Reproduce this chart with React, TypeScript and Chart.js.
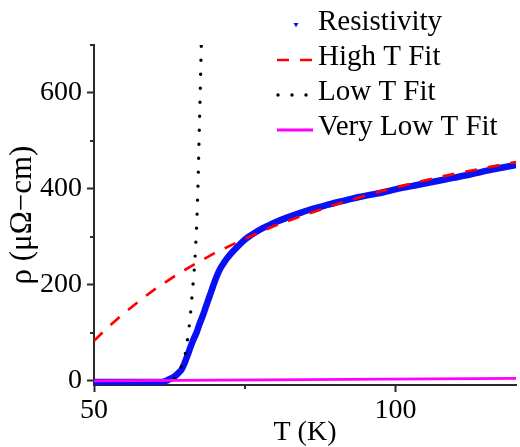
import React, { useEffect, useRef } from 'react';
import { Chart, registerables } from 'chart.js';

Chart.register(...registerables);

// ---------- data ----------
const resistivityT = [50, 52, 54, 56, 58, 60, 61, 61.5, 62, 62.5, 63, 63.5, 64, 64.5, 65, 65.5, 66, 66.5, 67, 67.5, 68, 68.5, 69, 69.5, 70, 70.5, 71, 71.5, 72, 72.5, 73, 74, 75, 76, 77, 78, 79, 80, 82, 84, 86, 88, 90, 92, 94, 96, 98, 100, 104, 108, 112, 116, 120];
const resistivityRho = [-3, -3, -3, -3, -3, -3, -3, -2, 0, 3, 6, 10, 16, 23, 36, 52, 70, 86, 100, 118, 134, 152, 170, 188, 206, 222, 235, 245, 254, 262, 269, 282, 294, 303, 311, 318, 324, 330, 340, 349, 357, 364, 371, 377, 383, 388, 393, 399, 409, 419, 429, 440, 450];

const highFitT = [50, 52, 55, 58, 60, 63, 66, 70, 75, 80, 85, 90, 95, 100, 105, 110, 115, 120];
const highFitRho = [83, 108, 141, 171, 190, 215, 238, 266, 296, 323, 346, 367, 386, 403, 418, 432, 444, 456];

const lowFitT = [63.3, 63.6, 64.2, 64.8, 65.3, 65.9, 66.3, 66.7, 67.05, 67.27, 67.43, 67.6, 67.76, 67.8];
const lowFitRho = [4, 8, 20, 36, 65, 124, 182, 241, 328, 416, 504, 591, 680, 700];

const veryLowFitT = [50, 85, 120];
const veryLowFitRho = [-0.5, 2, 5];

const seriesLabels = ['Resistivity', 'High T Fit', 'Low T Fit', 'Very Low T Fit'];
const xMajorTicks = [50, 100];
const xMinorTicks = [75];
const yMajorTicks = [0, 200, 400, 600];
const yMinorTicks = [100, 300, 500, 700];
const xAxisTitle = 'T (K)';
const yAxisTitle = 'ρ (μΩ−cm)';

// ---------- styles ----------
const FONT = '"Liberation Serif", "Times New Roman", serif';
const AXIS_COLOR = '#2a2a2a';
const BLUE = '#0a10f5';
const RED = '#ff0000';
const BLACK = '#000000';
const MAGENTA = '#ff00ff';

const toPoints = (xs: number[], ys: number[]) => xs.map((x, i) => ({ x, y: ys[i] }));

const minorTicksPlugin = {
  id: 'minorTicks',
  afterDraw(chart: any) {
    const { ctx } = chart;
    const x = chart.scales.x;
    const y = chart.scales.y;
    ctx.save();
    ctx.strokeStyle = AXIS_COLOR;
    ctx.lineWidth = 2;
    ctx.beginPath();
    xMinorTicks.forEach((v) => {
      const px = Math.round(x.getPixelForValue(v));
      ctx.moveTo(px, x.top);
      ctx.lineTo(px, x.top + 4);
    });
    yMinorTicks.forEach((v) => {
      const py = Math.round(y.getPixelForValue(v));
      ctx.moveTo(y.right, py);
      ctx.lineTo(y.right - 4, py);
    });
    ctx.stroke();
    ctx.restore();
  },
};

const legendPlugin = {
  id: 'customLegend',
  afterDraw(chart: any) {
    const { ctx } = chart;
    const textX = 318;
    const markerL = 277;
    const markerR = 313;
    const rowTop = 22;
    const rowGap = 35;
    ctx.save();
    ctx.font = `29px ${FONT}`;
    ctx.textBaseline = 'middle';
    ctx.textAlign = 'left';
    chart.data.datasets.forEach((ds: any, i: number) => {
      const cy = rowTop + i * rowGap;
      ctx.fillStyle = '#000';
      ctx.fillText(ds.label, textX, cy);
      const my = cy + 3;
      ctx.save();
      if (i === 0) {
        const cx = (markerL + markerR) / 2 + 1;
        ctx.fillStyle = BLUE;
        ctx.beginPath();
        ctx.moveTo(cx - 2.5, my - 2);
        ctx.lineTo(cx + 2.5, my - 2);
        ctx.lineTo(cx, my + 2.5);
        ctx.closePath();
        ctx.fill();
      } else {
        ctx.strokeStyle = ds.borderColor;
        ctx.lineWidth = ds.borderWidth;
        ctx.lineCap = ds.borderCapStyle || 'butt';
        ctx.setLineDash(ds.borderDash || []);
        ctx.beginPath();
        if (i === 2) {
          ctx.moveTo(markerL + 1, my);
          ctx.lineTo(markerR - 4, my);
        } else {
          ctx.moveTo(markerL, my);
          ctx.lineTo(markerR, my);
        }
        ctx.stroke();
      }
      ctx.restore();
    });
    ctx.restore();
  },
};

export default function App() {
  const canvasRef = useRef<HTMLCanvasElement | null>(null);

  useEffect(() => {
    if (!canvasRef.current) return;
    Chart.defaults.font.family = FONT;
    const chart = new Chart(canvasRef.current, {
      type: 'scatter',
      data: {
        datasets: [
          {
            label: seriesLabels[0],
            data: toPoints(resistivityT, resistivityRho),
            showLine: true,
            borderColor: BLUE,
            backgroundColor: BLUE,
            borderWidth: 6.5,
            cubicInterpolationMode: 'monotone',
            pointRadius: 3,
            pointStyle: 'triangle',
            rotation: 180,
            pointBorderWidth: 0,
            order: 4,
          },
          {
            label: seriesLabels[1],
            data: toPoints(highFitT, highFitRho),
            showLine: true,
            borderColor: RED,
            backgroundColor: RED,
            borderWidth: 2.7,
            borderDash: [12, 11],
            pointRadius: 0,
            order: 3,
          },
          {
            label: seriesLabels[2],
            data: toPoints(lowFitT, lowFitRho),
            showLine: true,
            borderColor: BLACK,
            backgroundColor: BLACK,
            borderWidth: 3.4,
            borderDash: [0, 14],
            borderCapStyle: 'round',
            pointRadius: 0,
            order: 2,
          },
          {
            label: seriesLabels[3],
            data: toPoints(veryLowFitT, veryLowFitRho),
            showLine: true,
            borderColor: MAGENTA,
            backgroundColor: MAGENTA,
            borderWidth: 2.8,
            pointRadius: 0,
            order: 1,
          },
        ],
      },
      options: {
        animation: false,
        responsive: false,
        maintainAspectRatio: false,
        layout: { padding: { top: 45, right: 3, left: 0, bottom: 0 } },
        plugins: {
          legend: { display: false },
          tooltip: { enabled: false },
        },
        scales: {
          x: {
            type: 'linear',
            min: 50,
            max: 120,
            afterBuildTicks: (scale: any) => {
              scale.ticks = xMajorTicks.map((v) => ({ value: v }));
            },
            afterFit: (scale: any) => {
              scale.height = 62;
            },
            border: { display: true, color: AXIS_COLOR, width: 2 },
            grid: {
              display: true,
              drawOnChartArea: false,
              drawTicks: true,
              tickLength: 7,
              tickColor: AXIS_COLOR,
              tickWidth: 2,
            },
            ticks: {
              color: '#000',
              font: { family: FONT, size: 28 },
              padding: 2,
              maxRotation: 0,
              autoSkip: false,
              callback: (v: any) => String(v),
            },
            title: {
              display: true,
              text: xAxisTitle,
              color: '#000',
              font: { family: FONT, size: 28, lineHeight: 1 },
              padding: { top: 0, bottom: 0 },
            },
          },
          y: {
            type: 'linear',
            min: -9,
            max: 700,
            afterBuildTicks: (scale: any) => {
              scale.ticks = yMajorTicks.map((v) => ({ value: v }));
            },
            afterFit: (scale: any) => {
              scale.width = 94;
            },
            border: { display: true, color: AXIS_COLOR, width: 2 },
            grid: {
              display: true,
              drawOnChartArea: false,
              drawTicks: true,
              tickLength: 7,
              tickColor: AXIS_COLOR,
              tickWidth: 2,
            },
            ticks: {
              color: '#000',
              font: { family: FONT, size: 28 },
              padding: 5,
              autoSkip: false,
              callback: (v: any) => String(v),
            },
            title: {
              display: true,
              text: yAxisTitle,
              color: '#000',
              font: { family: FONT, size: 31, lineHeight: 1 },
              padding: { top: 7, bottom: 0 },
            },
          },
        },
      },
      plugins: [minorTicksPlugin, legendPlugin],
    } as any);
    return () => chart.destroy();
  }, []);

  return (
    <div style={{ position: 'absolute', left: 0, top: 0, width: 520, height: 447, background: '#fff' }}>
      <canvas ref={canvasRef} width={520} height={447} style={{ display: 'block' }} />
    </div>
  );
}
